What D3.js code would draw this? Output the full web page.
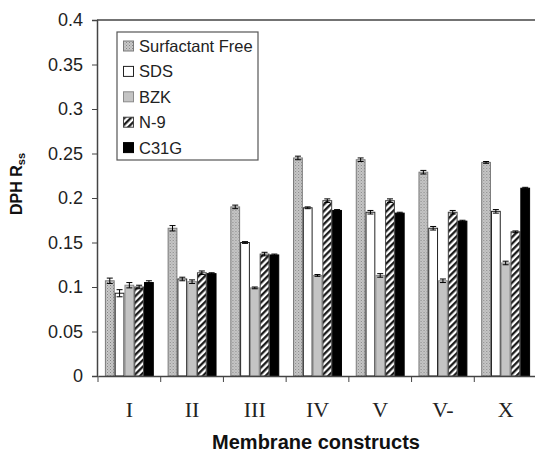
<!DOCTYPE html>
<html>
<head>
<meta charset="utf-8">
<script src="https://cdn.jsdelivr.net/npm/d3@7"></script>
<style>
body { margin: 0; background: #fff; }
svg { display: block; }
text { font-family: "Liberation Sans", Arial, sans-serif; }
</style>
</head>
<body>
<svg id="chart" width="535" height="454"></svg>
<script>
const categories = ["I", "II", "III", "IV", "V", "V-", "X"];
const seriesNames = ["Surfactant Free", "SDS", "BZK", "N-9", "C31G"];
const surfactantFree = [0.107, 0.166, 0.190, 0.245, 0.243, 0.229, 0.240];
const sds            = [0.093, 0.109, 0.150, 0.189, 0.184, 0.166, 0.185];
const bzk            = [0.102, 0.106, 0.099, 0.113, 0.113, 0.107, 0.127];
const n9             = [0.100, 0.116, 0.137, 0.197, 0.197, 0.184, 0.162];
const c31g           = [0.105, 0.115, 0.136, 0.186, 0.183, 0.174, 0.211];
const surfactantFreeErr = [0.003, 0.003, 0.002, 0.002, 0.002, 0.002, 0.001];
const sdsErr            = [0.004, 0.002, 0.001, 0.001, 0.002, 0.002, 0.002];
const bzkErr            = [0.003, 0.002, 0.001, 0.001, 0.002, 0.002, 0.002];
const n9Err             = [0.002, 0.002, 0.002, 0.002, 0.002, 0.002, 0.001];
const c31gErr           = [0.002, 0.001, 0.001, 0.001, 0.001, 0.001, 0.001];
const yTicks = [0, 0.05, 0.1, 0.15, 0.2, 0.25, 0.3, 0.35, 0.4];

const seriesValues = [surfactantFree, sds, bzk, n9, c31g];
const seriesErrors = [surfactantFreeErr, sdsErr, bzkErr, n9Err, c31gErr];

const svg = d3.select("#chart");
const defs = svg.append("defs");

// stipple pattern for Surfactant Free
const stip = defs.append("pattern").attr("id", "stipple")
  .attr("patternUnits", "userSpaceOnUse").attr("width", 3).attr("height", 3);
stip.append("rect").attr("width", 3).attr("height", 3).attr("fill", "#c8c8c8");
stip.append("rect").attr("x", 0).attr("y", 0).attr("width", 1).attr("height", 1).attr("fill", "#858585");
stip.append("rect").attr("x", 1.5).attr("y", 1.5).attr("width", 1).attr("height", 1).attr("fill", "#959595");

// hatch pattern for N-9
const hatch = defs.append("pattern").attr("id", "hatch")
  .attr("patternUnits", "userSpaceOnUse").attr("width", 4.6).attr("height", 4.6)
  .attr("patternTransform", "rotate(45)");
hatch.append("rect").attr("width", 4.6).attr("height", 4.6).attr("fill", "#fff");
hatch.append("line").attr("x1", 1.2).attr("y1", 0).attr("x2", 1.2).attr("y2", 4.6)
  .attr("stroke", "#111").attr("stroke-width", 2.2);

const fills = ["url(#stipple)", "#ffffff", "#c4c4c4", "url(#hatch)", "#000000"];
const strokes = ["#7a7a7a", "#222222", "#8a8a8a", "#444444", "#000000"];

const plotLeft = 98, plotRight = 537, plotTop = 20, plotBottom = 376;

const y = d3.scaleLinear().domain([0, 0.4]).range([plotBottom, plotTop]);
const x0 = d3.scaleBand().domain(categories).range([plotLeft, plotRight]).padding(0);
const bw = x0.bandwidth();
const x1 = d3.scaleBand().domain(seriesNames).range([bw * 0.11, bw * 0.89]).padding(0);

// top frame line
svg.append("line").attr("x1", plotLeft - 1).attr("x2", 535).attr("y1", y(0.4)).attr("y2", y(0.4))
  .attr("stroke", "#444").attr("stroke-width", 1.5);

// bars
const groups = svg.append("g").selectAll("g").data(categories).join("g")
  .attr("transform", d => `translate(${x0(d)},0)`);

groups.each(function(cat, ci) {
  const g = d3.select(this);
  seriesNames.forEach((s, si) => {
    const v = seriesValues[si][ci];
    const e = seriesErrors[si][ci];
    const bx = x1(s);
    const w = x1.bandwidth();
    g.append("rect")
      .attr("x", bx + 0.5).attr("y", y(v))
      .attr("width", w - 1).attr("height", y(0) - y(v))
      .attr("fill", fills[si]).attr("stroke", strokes[si]).attr("stroke-width", 1);
    const cx = bx + w / 2;
    g.append("line").attr("x1", cx).attr("x2", cx).attr("y1", y(v + e)).attr("y2", y(v - e))
      .attr("stroke", "#000").attr("stroke-width", 1);
    g.append("line").attr("x1", cx - 3).attr("x2", cx + 3).attr("y1", y(v + e)).attr("y2", y(v + e))
      .attr("stroke", "#000").attr("stroke-width", 1);
    g.append("line").attr("x1", cx - 3).attr("x2", cx + 3).attr("y1", y(v - e)).attr("y2", y(v - e))
      .attr("stroke", "#000").attr("stroke-width", 1);
  });
});

// y axis
const yAxis = svg.append("g").attr("transform", `translate(${plotLeft - 1},0)`)
  .call(d3.axisLeft(y).tickValues(yTicks).tickFormat(d => d === 0 ? "0" : String(d)).tickSize(5).tickPadding(9));
yAxis.select(".domain").attr("stroke", "#444").attr("stroke-width", 1.5);
yAxis.selectAll(".tick line").attr("stroke", "#444");
yAxis.selectAll(".tick text").attr("font-size", 18).attr("fill", "#222")
  .style("font-family", "'Liberation Sans', Arial, sans-serif");

// x axis
const xAxis = svg.append("g").attr("transform", `translate(0,${plotBottom})`)
  .call(d3.axisBottom(x0).tickSize(0).tickFormat(""));
xAxis.select(".domain").attr("stroke", "#444").attr("stroke-width", 1.5);
// category boundary ticks
const boundaries = categories.map(c => x0(c)).concat([x0(categories[categories.length - 1]) + bw]);
svg.append("g").selectAll("line").data(boundaries).join("line")
  .attr("x1", d => d).attr("x2", d => d).attr("y1", plotBottom).attr("y2", plotBottom + 6)
  .attr("stroke", "#444").attr("stroke-width", 1);
svg.append("g").selectAll("text").data(categories).join("text")
  .attr("x", d => x0(d) + bw / 2).attr("y", 416.5)
  .attr("text-anchor", "middle")
  .style("font-family", "'Liberation Serif', 'Times New Roman', serif")
  .attr("font-size", 22).attr("fill", "#222")
  .text(d => d);

// axis titles
svg.append("text").attr("x", 316).attr("y", 449).attr("text-anchor", "middle")
  .attr("font-size", 20).attr("font-weight", "bold").attr("fill", "#111")
  .text("Membrane constructs");

const yt = svg.append("text").attr("transform", "translate(21.5,184) rotate(-90)")
  .attr("text-anchor", "middle").attr("font-size", 16).attr("font-weight", "bold").attr("fill", "#111");
yt.append("tspan").text("DPH R");
yt.append("tspan").attr("font-size", 11).attr("dy", 3).text("ss");

// legend
const lg = svg.append("g");
lg.append("rect").attr("x", 117).attr("y", 32).attr("width", 141).attr("height", 128)
  .attr("fill", "#fff").attr("stroke", "#555").attr("stroke-width", 1.2);
seriesNames.forEach((s, i) => {
  const cy = 46 + i * 25.4;
  lg.append("rect").attr("x", 123.5).attr("y", cy - 5).attr("width", 10).attr("height", 10)
    .attr("fill", fills[i]).attr("stroke", strokes[i]).attr("stroke-width", 1);
  lg.append("text").attr("x", 139).attr("y", cy + 6).attr("font-size", 16.5).attr("fill", "#222").text(s);
});
</script>
</body>
</html>
